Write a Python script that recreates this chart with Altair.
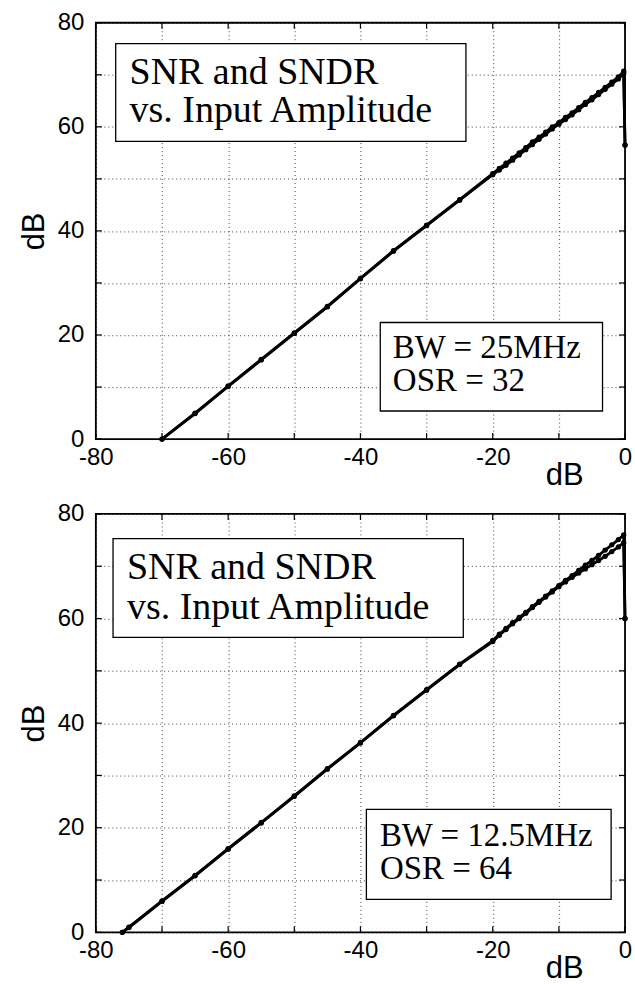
import altair as alt
import pandas as pd

# ---------------- data ----------------
# Top panel: BW = 25 MHz, OSR = 32
top_x = [-70, -65, -60, -55, -50, -45, -40, -35, -30, -25,
         -20, -19, -18, -17, -16, -15, -14, -13, -12, -11,
         -10, -9, -8, -7, -6, -5, -4, -3, -2, -1, -0.2, 0]
top_snr = [0.0, 5.0, 10.2, 15.3, 20.4, 25.5, 30.9, 36.2, 41.1, 46.0,
           51.0, 52.0, 53.0, 54.0, 55.0, 56.0, 57.1, 58.0, 59.0, 60.0,
           60.8, 61.8, 62.7, 63.7, 64.7, 65.6, 66.6, 67.6, 68.6, 69.6, 70.7, 56.5]
top_sndr = [0.0, 4.9, 10.1, 15.2, 20.3, 25.4, 30.8, 36.1, 41.0, 45.9,
            50.8, 51.7, 52.6, 53.6, 54.6, 55.6, 56.6, 57.6, 58.6, 59.6,
            60.5, 61.4, 62.3, 63.3, 64.3, 65.2, 66.2, 67.2, 68.2, 69.2, 70.3, 56.5]

# Bottom panel: BW = 12.5 MHz, OSR = 64
bot_x = [-76, -75, -70, -65, -60, -55, -50, -45, -40, -35, -30, -25,
         -20, -19, -18, -17, -16, -15, -14, -13, -12, -11,
         -10, -9, -8, -7, -6, -5, -4, -3, -2, -1, -0.2, 0]
bot_snr = [0.0, 1.0, 6.0, 10.9, 16.0, 21.0, 26.1, 31.3, 36.3, 41.5, 46.4, 51.3,
           55.8, 57.0, 58.1, 59.2, 60.2, 61.2, 62.3, 63.3, 64.3, 65.3,
           66.3, 67.3, 68.2, 69.2, 70.2, 71.1, 72.1, 73.1, 74.1, 75.1, 76.0, 60.0]
bot_sndr = [0.0, 0.9, 5.9, 10.8, 15.9, 20.9, 26.0, 31.2, 36.2, 41.4, 46.3, 51.2,
            55.6, 56.8, 57.9, 59.0, 60.0, 61.0, 62.1, 63.1, 64.1, 65.1,
            66.1, 67.0, 67.9, 68.7, 69.5, 70.3, 71.1, 71.9, 72.8, 73.7, 74.5, 60.0]

grid_x = [-80, -70, -60, -50, -40, -30, -20, -10, 0]
grid_y = [0, 10, 20, 30, 40, 50, 60, 70, 80]

title_lines = ["SNR and SNDR", "vs. Input Amplitude"]
top_info = ["BW = 25MHz", "OSR = 32"]
bot_info = ["BW = 12.5MHz", "OSR = 64"]

# annotation placement (data units)
top_layout = dict(
    box1=(-77.0, -24.05, 57.2, 76.0), t1=(-74.9, [68.3, 61.0]),
    box2=(-37.0, -3.4, 5.4, 22.4), t2=(-35.1, [15.5, 9.2]))
bot_layout = dict(
    box1=(-77.4, -24.45, 56.4, 75.3), t1=(-75.3, [67.6, 60.0]),
    box2=(-39.1, -2.1, 6.3, 23.5), t2=(-37.06, [16.6, 10.25]))

W = 530
SANS = "Liberation Sans"
SERIF = "Liberation Serif"


def panel(x, snr, sndr, info, lay, H):
    n = len(x)
    df = pd.DataFrame({"x": list(x) * 2, "y": list(snr) + list(sndr),
                       "s": ["SNR"] * n + ["SNDR"] * n})
    xs = alt.Scale(domain=[-80, 0], nice=False, zero=False)
    ys = alt.Scale(domain=[0, 80], nice=False, zero=False)
    lab = "datum.value % 20 == 0 ? '' + datum.value : ''"
    xaxis = alt.Axis(values=grid_x, labelExpr=lab, grid=True, ticks=False,
                     domain=False, labelFlush=False, labelOverlap=False,
                     labelPadding=6, labelFont=SANS, labelFontSize=24,
                     labelColor="black", title="dB", titleFont=SANS,
                     titleFontSize=31, titleFontWeight="normal",
                     titleColor="black", titleX=469, titleY=45,
                     titleAlign="center", titleBaseline="alphabetic",
                     gridColor="black", gridDash=[1, 3], gridOpacity=0.75,
                     gridWidth=1)
    yaxis = alt.Axis(values=grid_y, labelExpr=lab, grid=True, ticks=False,
                     domain=False, labelFlush=False, labelOverlap=False,
                     labelPadding=12, labelFont=SANS, labelFontSize=24,
                     labelColor="black", title="dB", titleFont=SANS,
                     titleFontSize=31, titleFontWeight="normal",
                     titleColor="black", titleX=-52, titleY=H / 2,
                     titleAngle=270, titleAlign="center",
                     titleBaseline="alphabetic",
                     gridColor="black", gridDash=[1, 3], gridOpacity=0.75,
                     gridWidth=1)

    def X(f):
        return alt.X(f, scale=xs, axis=xaxis, title="dB")

    def Y(f):
        return alt.Y(f, scale=ys, axis=yaxis, title="dB")

    base = alt.Chart(df)
    lines = base.mark_line(color="black", strokeWidth=2.8).encode(
        x=X("x:Q"), y=Y("y:Q"), detail="s:N")
    pts = base.mark_circle(color="black", size=28, opacity=1).encode(
        x=X("x:Q"), y=Y("y:Q"))

    gx = pd.DataFrame({"g": grid_x})
    gy = pd.DataFrame({"g": grid_y})
    tk = 6
    tb = alt.Chart(gx).mark_rule(color="black", strokeWidth=1.2).encode(
        x=X("g:Q"), y=alt.value(H - tk), y2=alt.value(H))
    tt = alt.Chart(gx).mark_rule(color="black", strokeWidth=1.2).encode(
        x=X("g:Q"), y=alt.value(0), y2=alt.value(tk))
    tl = alt.Chart(gy).mark_rule(color="black", strokeWidth=1.2).encode(
        y=Y("g:Q"), x=alt.value(0), x2=alt.value(tk))
    tr = alt.Chart(gy).mark_rule(color="black", strokeWidth=1.2).encode(
        y=Y("g:Q"), x=alt.value(W - tk), x2=alt.value(W))

    b1, b2 = lay["box1"], lay["box2"]
    boxes = pd.DataFrame({"x1": [b1[0], b2[0]], "x2": [b1[1], b2[1]],
                          "y1": [b1[2], b2[2]], "y2": [b1[3], b2[3]]})
    rect = alt.Chart(boxes).mark_rect(fill="white", stroke="black",
                                      strokeWidth=1.3).encode(
        x=X("x1:Q"), x2="x2:Q", y=Y("y1:Q"), y2="y2:Q")

    t1x, t1y = lay["t1"]
    t2x, t2y = lay["t2"]
    tdf1 = pd.DataFrame({"x": [t1x, t1x], "y": t1y, "t": title_lines})
    tdf2 = pd.DataFrame({"x": [t2x, t2x], "y": t2y, "t": info})
    txt1 = alt.Chart(tdf1).mark_text(font=SERIF, fontSize=38, align="left",
                                     baseline="alphabetic", color="black").encode(
        x=X("x:Q"), y=Y("y:Q"), text="t:N")
    txt2 = alt.Chart(tdf2).mark_text(font=SERIF, fontSize=33, align="left",
                                     baseline="alphabetic", color="black").encode(
        x=X("x:Q"), y=Y("y:Q"), text="t:N")

    return alt.layer(lines, pts, tb, tt, tl, tr, rect, txt1, txt2).properties(
        width=W, height=H)


top = panel(top_x, top_snr, top_sndr, top_info, top_layout, 417)
bot = panel(bot_x, bot_snr, bot_sndr, bot_info, bot_layout, 419)

chart = alt.vconcat(top, bot, spacing=75, bounds="flush").properties(
    padding={"left": 18, "top": 9, "right": 2, "bottom": 2},
    background="white"
).configure_view(stroke="black", strokeWidth=1.8)

chart.save("out.html", embed_options={"renderer": "svg", "actions": False})
